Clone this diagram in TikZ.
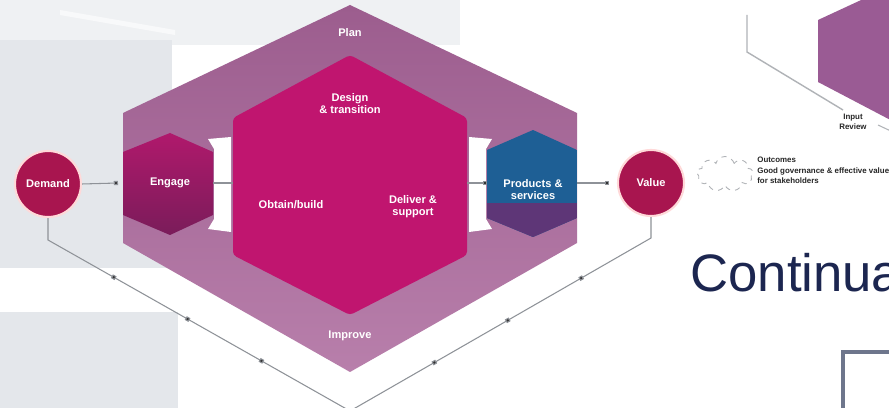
\documentclass[tikz,border=0pt]{standalone}
\usepackage{fontspec}
\setmainfont{Liberation Sans}
\usetikzlibrary{arrows.meta,positioning,calc,shapes.symbols,decorations.markings}
\definecolor{bggrey}{HTML}{E4E7EB}
\definecolor{plancol}{HTML}{9C5D8E}
\definecolor{improvecol}{HTML}{B87FAB}
\definecolor{magcol}{HTML}{C0156F}
\definecolor{engagetop}{HTML}{B0196C}
\definecolor{engagebot}{HTML}{7A1C5A}
\definecolor{prodblue}{HTML}{1E5F95}
\definecolor{prodpurple}{HTML}{5E3677}
\definecolor{dotred}{HTML}{A8154F}
\definecolor{linegrey}{HTML}{8E9298}
\definecolor{navytext}{HTML}{1C2650}
\definecolor{sidehex}{HTML}{9A5B94}
\definecolor{boxgrey}{HTML}{6E768C}
\tikzstyle{lbl}     = [text=white,font=\bfseries\fontsize{6.3}{6.8}\selectfont,align=center,inner sep=0pt]
\tikzstyle{dot}     = [circle,fill=dotred,draw=pink!60,line width=1.2pt,minimum size=1.32cm,inner sep=0pt]
\tikzstyle{flow}    = [draw=linegrey,line width=0.6pt]
\tikzstyle{marked}  = [flow,postaction={decorate},decoration={markings,
                       mark=at position 0.27 with {\arrow{Square[length=2.4pt,width=2.4pt,fill=black!80]}},
                       mark=at position 0.50 with {\arrow{Square[length=2.4pt,width=2.4pt,fill=black!80]}},
                       mark=at position 0.73 with {\arrow{Square[length=2.4pt,width=2.4pt,fill=black!80]}}}]
\tikzstyle{arrow}   = [flow,-{Square[length=2.4pt,width=2.4pt,fill=black!80]}]

\begin{document}
\begin{tikzpicture}[x=0.02cm,y=-0.02cm]
        \useasboundingbox (0,0) rectangle (889,408);
        \clip (0,0) rectangle (889,408);
        % background panels
        \fill[white] (0,0) rectangle (889,408);
        \fill[bggrey!60] (0,0) rectangle (460,45);
        \fill[bggrey] (0,40) rectangle (172,268);
        \fill[bggrey] (0,312) rectangle (178,408);
        \fill[white,opacity=0.6] (60,10) -- (175,30) -- (175,35) -- (60,15) -- cycle;

        % outer ring (plan / improve)
        \shade[top color=plancol,bottom color=improvecol]
            (350,5) -- (577,113) -- (577,243) -- (350,372) -- (123,243) -- (123,113) -- cycle;
        % white channels
        \fill[white] (208,139) -- (231,137) -- (231,232) -- (208,229) -- (214,219) -- (214,149) -- cycle;
        \fill[white] (469,137) -- (492,139) -- (486,149) -- (486,219) -- (492,229) -- (469,232) -- cycle;
        % value chain core
        \fill[magcol, rounded corners=2pt]
            (350,55) -- (467,118) -- (467,255) -- (350,315) -- (233,255) -- (233,118) -- cycle;
        % engage
        \shade[top color=engagetop,bottom color=engagebot]
            (170,133) -- (213,152) -- (213,215) -- (170,235) -- (123,215) -- (123,152) -- cycle;
        % products & services
        \begin{scope}
            \clip (533,130) -- (577,150) -- (577,218) -- (533,237) -- (487,218) -- (487,150) -- cycle;
            \fill[prodblue] (487,130) rectangle (577,237);
            \fill[prodpurple] (487,203) rectangle (577,237);
        \end{scope}

        % labels
        \node[lbl] (plan) at (350,33) {Plan};
        \node[lbl] (design) at (350,104) {Design\\\& transition};
        \node[lbl] (obtain) at (291,205) {Obtain/build};
        \node[lbl] (deliver) at (413,207) {Deliver \&\\support};
        \node[lbl] (improve) at (350,336) {Improve};
        \node[lbl] (engage) at (170,183) {Engage};
        \node[lbl] (products) at (533,190) {Products \&\\services};

        \node[dot] (demand) at (48,184) {};
        \node[lbl] at (demand) {Demand};
        \node[dot] (value) at (651,183) {};
        \node[lbl] at (value) {Value};

        % connectors
        \coordinate (engL) at (123,183);
        \coordinate (engR) at (213,183);
        \coordinate (coreL) at (233,183);
        \coordinate (coreR) at (467,183);
        \coordinate (prodL) at (487,183);
        \coordinate (prodR) at (577,183);
        \draw[arrow] (demand.east) -- ($(engL)+(-5,0)$);
        \draw[flow] (engR) -- (coreL);
        \draw[arrow] (coreR) -- (prodL);
        \draw[arrow] (prodR) -- ($(value.west)+(-8,0)$);

        \coordinate (demandK) at (48,240);
        \coordinate (valueK) at (651,238);
        \coordinate (bottom) at (350,411);
        \draw[marked] (demand.south) -- (demandK) -- (bottom);
        \draw[marked] (bottom) -- (valueK) -- (value.south);

        % outcome cloud and note
        \node[cloud, cloud puffs=9, draw=linegrey!70, dashed, line width=0.5pt,
              minimum width=1.12cm, minimum height=0.7cm] (cloud) at (725,174) {};
        \node[anchor=north west, inner sep=0pt, align=left, text=black!85,
              font=\bfseries\fontsize{4.5}{6}\selectfont] (note) at (757,157)
              {Outcomes\\Good governance \& effective value\\for stakeholders};

        % top right corner
        \fill[sidehex] (818,20) -- (900,-18) -- (900,125) -- (818,82) -- cycle;
        \coordinate (leadA) at (747,15);
        \coordinate (leadB) at (747,52);
        \coordinate (leadC) at (843,110);
        \draw[draw=linegrey!70,line width=0.8pt] (leadA) -- (leadB) -- (leadC);
        \node[anchor=north, inner sep=0pt, align=center, text=black!85,
              font=\bfseries\fontsize{4.5}{5.5}\selectfont] (lead) at (853,114) {Input\\Review};
        \draw[draw=linegrey!70,line width=0.6pt] (878,125) -- (895,133);

        \node[anchor=base west, inner sep=0pt, text=navytext,
              font=\fontsize{30}{30}\selectfont] (title) at (690,292) {Continual};

        \draw[draw=boxgrey, line width=2.8pt] (843,420) |- (900,352);
\end{tikzpicture}
\end{document}
